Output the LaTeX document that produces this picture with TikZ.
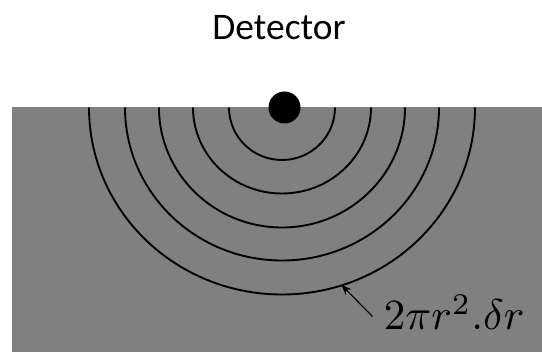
\documentclass[tikz,border=0pt]{standalone}
\usepackage{fontspec}
\setmainfont{Carlito}
\usetikzlibrary{arrows.meta}
\begin{document}
\begin{tikzpicture}[x=1pt,y=-1pt,
  wave/.style={line width=1.9pt,black},
  pointer/.style={line width=1.1pt,-{Stealth[length=10pt,width=8pt]}}]
\useasboundingbox (0,0) rectangle (542,352);
\fill[fill={rgb,255:red,128;green,128;blue,128}] (11.5,107.5) rectangle (542,352);
% wavefronts
\foreach \rx/\ry in {53/52.5,89/86,123/120,157/153,193/187}{
  \draw[wave] (282-\rx,107.5) arc[start angle=180,end angle=0,x radius=\rx,y radius=\ry];
}
\node[circle,fill=black,minimum size=32pt,inner sep=0pt] (dot) at (284.5,107.5) {};
\node[anchor=base,inner sep=0pt,font=\fontsize{37.5}{40}\selectfont] (title) at (279,40) {Detector};
\node[anchor=base west,inner sep=0pt,scale=4.3,font=\fontsize{10}{12}\selectfont] (lbl) at (383,330) {$2\pi r^2.\delta r$};
\coordinate (tail) at (372.5,316.5);
\coordinate (tip) at (341.5,285);
\draw[pointer] (tail) -- (tip);
\end{tikzpicture}
\end{document}
